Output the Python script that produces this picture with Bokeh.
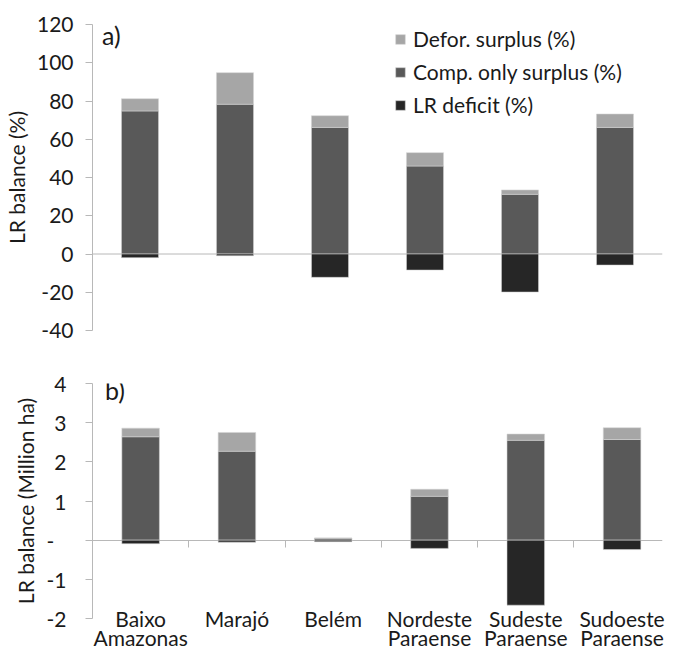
from bokeh.plotting import figure
from bokeh.models import (ColumnDataSource, Range1d, LinearAxis, SingleIntervalTicker,
                          FixedTicker, Legend, LegendItem, Span, Label, NumeralTickFormatter)
from bokeh.layouts import column
from bokeh.embed import file_html
from bokeh.resources import INLINE

# ---------------- data ----------------
categories = ["Baixo Amazonas", "Marajó", "Belém", "Nordeste Paraense",
              "Sudeste Paraense", "Sudoeste Paraense"]
pct_comp = [74.8, 78.3, 66.2, 46.0, 31.2, 66.2]
pct_defor = [6.4, 16.5, 6.1, 7.0, 2.3, 7.0]
pct_deficit = [-1.9, -0.9, -12.2, -8.4, -19.9, -5.8]
mha_comp = [2.64, 2.27, 0.05, 1.12, 2.55, 2.57]
mha_defor = [0.22, 0.48, 0.005, 0.18, 0.16, 0.30]
mha_deficit = [-0.09, -0.05, -0.04, -0.21, -1.66, -0.24]
series_labels = ["Defor. surplus (%)", "Comp. only surplus (%)", "LR deficit (%)"]

# ---------------- style ----------------
FONT = "Lato"
FS = "21px"
C_LIGHT, C_MID, C_DARK = "#a6a6a6", "#595959", "#262626"
EDGE = "#d4d4d4"
AXIS_C = "#b8b8b8"
TXT = "#1a1a1a"
BAR_W = 0.39

xpos = [i + 0.5 for i in range(len(categories))]
line1 = [c.split(" ", 1)[0] for c in categories]
line2 = [c.split(" ", 1)[1] if " " in c else "" for c in categories]


def make_source(comp, defor, deficit):
    return ColumnDataSource(dict(
        x=xpos,
        comp_top=comp,
        defor_bottom=comp,
        defor_top=[c + d for c, d in zip(comp, defor)],
        deficit=deficit,
        zero=[0] * len(comp),
    ))


def style_common(p):
    p.xgrid.visible = False
    p.ygrid.visible = False
    p.outline_line_color = None
    p.background_fill_color = "white"
    p.border_fill_color = "white"
    ya = p.yaxis[0]
    ya.formatter = NumeralTickFormatter(format="0")
    ya.axis_line_color = AXIS_C
    ya.major_tick_line_color = AXIS_C
    ya.major_tick_out = 7
    ya.major_tick_in = 0
    ya.minor_tick_line_color = None
    ya.major_label_text_font = FONT
    ya.major_label_text_font_size = FS
    ya.major_label_text_color = TXT
    ya.axis_label_text_font = FONT
    ya.axis_label_text_font_size = FS
    ya.axis_label_text_font_style = "normal"
    ya.axis_label_text_color = TXT


def add_bars(p, src):
    kw = dict(x="x", width=BAR_W, source=src, line_color=EDGE, line_width=0.8, line_alpha=0.7)
    r_comp = p.vbar(bottom="zero", top="comp_top", fill_color=C_MID, **kw)
    r_defor = p.vbar(bottom="defor_bottom", top="defor_top", fill_color=C_LIGHT, **kw)
    r_def = p.vbar(bottom="deficit", top="zero", fill_color=C_DARK, **kw)
    return r_defor, r_comp, r_def


def style_cat_axis(ax, labels, standoff):
    ax.ticker = FixedTicker(ticks=xpos)
    ax.major_label_overrides = {x: t for x, t in zip(xpos, labels)}
    ax.axis_line_color = None
    ax.major_tick_line_color = None
    ax.minor_tick_line_color = None
    ax.major_tick_out = 0
    ax.major_tick_in = 0
    ax.major_label_standoff = standoff
    ax.major_label_text_font = FONT
    ax.major_label_text_font_size = FS
    ax.major_label_text_color = TXT


# ---------------- top panel (a) ----------------
p1 = figure(width=673, height=343, x_range=Range1d(0, len(categories)),
            y_range=Range1d(-40, 120), output_backend="svg", toolbar_location=None,
            min_border_left=87, min_border_right=11, min_border_top=24, min_border_bottom=13)
style_common(p1)
p1.xaxis.visible = False
p1.yaxis.ticker = SingleIntervalTicker(interval=20, num_minor_ticks=0)
p1.yaxis.major_label_standoff = 12
p1.yaxis.axis_label = "LR balance (%)"
p1.yaxis.axis_label_standoff = 5

p1.add_layout(Span(location=0, dimension="width", line_color=AXIS_C, line_width=1,
                   level="underlay"))
src1 = make_source(pct_comp, pct_defor, pct_deficit)
r_defor, r_comp, r_def = add_bars(p1, src1)

legend = Legend(items=[LegendItem(label=series_labels[0], renderers=[r_defor]),
                       LegendItem(label=series_labels[1], renderers=[r_comp]),
                       LegendItem(label=series_labels[2], renderers=[r_def])],
                location=(302, 213), orientation="vertical",
                glyph_width=12, glyph_height=12, label_standoff=7,
                spacing=8, label_height=24, padding=0, margin=0,
                border_line_color=None, background_fill_alpha=0,
                label_text_font=FONT, label_text_font_size=FS,
                label_text_color=TXT)
p1.add_layout(legend)
p1.add_layout(Label(x=0.10, y=120, text="a)", text_baseline="top", y_offset=5,
                    text_font=FONT, text_font_size="25px", text_color=TXT))

# ---------------- bottom panel (b) ----------------
p2 = figure(width=673, height=309, x_range=Range1d(0, 5.92),
            y_range=Range1d(-2, 4), output_backend="svg", toolbar_location=None,
            min_border_left=87, min_border_right=0, min_border_top=40, min_border_bottom=34)
style_common(p2)
p2.yaxis.ticker = SingleIntervalTicker(interval=1, num_minor_ticks=0)
p2.yaxis.major_label_overrides = {0: "-\u2007"}
p2.yaxis.major_label_standoff = 19
p2.yaxis.axis_label = "LR balance (Million ha)"
p2.yaxis.axis_label_standoff = 6

style_cat_axis(p2.xaxis[0], line1, -13)
ax2 = LinearAxis()
style_cat_axis(ax2, line2, -9)
p2.add_layout(ax2, "below")

zero_axis = LinearAxis(ticker=FixedTicker(ticks=list(range(1, len(categories)))),
                       fixed_location=0, axis_line_color=AXIS_C,
                       major_tick_line_color=AXIS_C, major_tick_in=7, major_tick_out=0,
                       minor_tick_line_color=None, major_label_text_font_size="0px",
                       major_label_text_alpha=0, level="underlay")
p2.add_layout(zero_axis, "above")

src2 = make_source(mha_comp, mha_defor, mha_deficit)
add_bars(p2, src2)
p2.add_layout(Label(x=0.13, y=4, text="b)", text_baseline="top", y_offset=9,
                    text_font=FONT, text_font_size="25px", text_color=TXT))

layout = column(p1, p2, spacing=0)
open("out.html", "w").write(file_html(layout, INLINE))
